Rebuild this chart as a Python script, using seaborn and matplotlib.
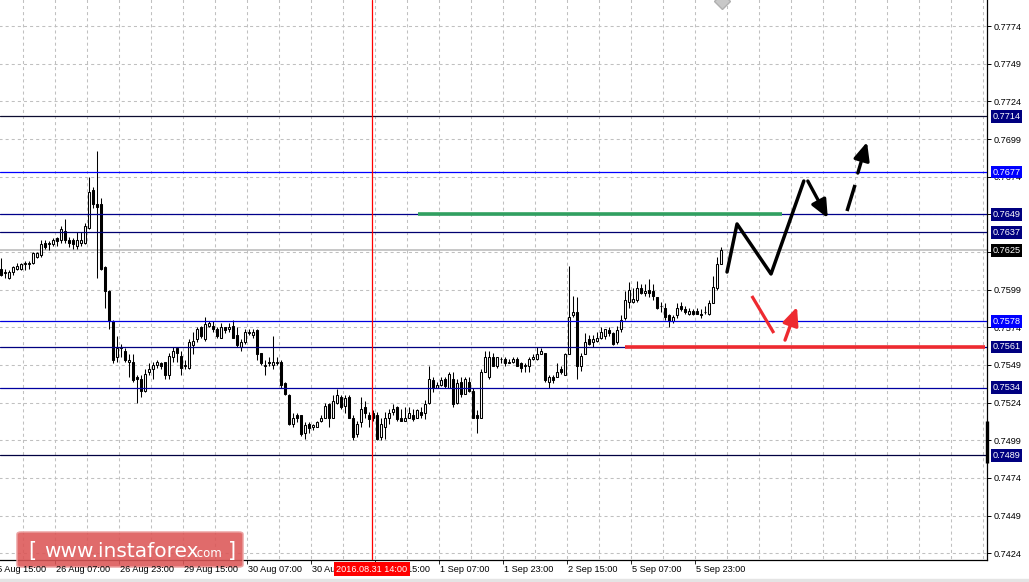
import numpy as np
import pandas as pd
import seaborn as sns
import matplotlib.pyplot as plt
from matplotlib.patches import FancyBboxPatch, Rectangle

# H1 candles, AUD/USD style quotes (open, high, low, close)
opens = [0.7613, 0.7610, 0.7607, 0.7611, 0.7613, 0.7613, 0.7616, 0.7616, 0.7617, 0.7621,
         0.7622, 0.7630, 0.7629, 0.7629, 0.7633, 0.7632, 0.7638, 0.7632, 0.7632, 0.7628,
         0.7630, 0.7630, 0.7640, 0.7665, 0.7656, 0.7656, 0.7614, 0.7598, 0.7578, 0.7554,
         0.7560, 0.7558, 0.7551, 0.7551, 0.7541, 0.7540, 0.7532, 0.7544, 0.7546, 0.7549,
         0.7550, 0.7551, 0.7542, 0.7554, 0.7560, 0.7555, 0.7548, 0.7547, 0.7562, 0.7566,
         0.7574, 0.7566, 0.7575, 0.7575, 0.7573, 0.7567, 0.7574, 0.7573, 0.7575, 0.7569,
         0.7561, 0.7564, 0.7570, 0.7569, 0.7572, 0.7557, 0.7548, 0.7551, 0.7549, 0.7550,
         0.7551, 0.7537, 0.7529, 0.7510, 0.7516, 0.7516, 0.7504, 0.7510, 0.7508, 0.7508,
         0.7512, 0.7514, 0.7523, 0.7514, 0.7524, 0.7528, 0.7522, 0.7528, 0.7514, 0.7503,
         0.7511, 0.7521, 0.7516, 0.7517, 0.7516, 0.7501, 0.7508, 0.7514, 0.7518, 0.7521,
         0.7514, 0.7512, 0.7514, 0.7516, 0.7514, 0.7518, 0.7517, 0.7524, 0.7539, 0.7534,
         0.7536, 0.7540, 0.7534, 0.7540, 0.7524, 0.7538, 0.7530, 0.7538, 0.7532, 0.7516,
         0.7514, 0.7544, 0.7541, 0.7554, 0.7548, 0.7553, 0.7553, 0.7550, 0.7551, 0.7553,
         0.7550, 0.7548, 0.7548, 0.7553, 0.7553, 0.7556, 0.7557, 0.7538, 0.7541, 0.7541,
         0.7546, 0.7542, 0.7556, 0.7582, 0.7584, 0.7548, 0.7556, 0.7566, 0.7564, 0.7565,
         0.7567, 0.7568, 0.7572, 0.7570, 0.7564, 0.7573, 0.7580, 0.7591, 0.7591, 0.7592,
         0.7600, 0.7597, 0.7599, 0.7598, 0.7594, 0.7588, 0.7587, 0.7582, 0.7578, 0.7582,
         0.7588, 0.7586, 0.7583, 0.7585, 0.7585, 0.7583, 0.7584, 0.7583, 0.7590, 0.7600,
         0.7616]
highs = [0.7620, 0.7613, 0.7612, 0.7615, 0.7617, 0.7617, 0.7618, 0.7618, 0.7624, 0.7624,
         0.7632, 0.7632, 0.7631, 0.7633, 0.7634, 0.7641, 0.7646, 0.7634, 0.7633, 0.7637,
         0.7637, 0.7643, 0.7674, 0.7667, 0.7691, 0.7660, 0.7615, 0.7599, 0.7579, 0.7568,
         0.7563, 0.7560, 0.7556, 0.7556, 0.7542, 0.7542, 0.7546, 0.7550, 0.7551, 0.7552,
         0.7551, 0.7551, 0.7557, 0.7561, 0.7561, 0.7558, 0.7552, 0.7566, 0.7571, 0.7574,
         0.7575, 0.7581, 0.7578, 0.7578, 0.7574, 0.7577, 0.7574, 0.7577, 0.7579, 0.7574,
         0.7566, 0.7573, 0.7573, 0.7573, 0.7573, 0.7557, 0.7552, 0.7554, 0.7568, 0.7554,
         0.7552, 0.7538, 0.7530, 0.7517, 0.7517, 0.7516, 0.7511, 0.7511, 0.7510, 0.7512,
         0.7516, 0.7524, 0.7524, 0.7529, 0.7533, 0.7529, 0.7529, 0.7529, 0.7516, 0.7512,
         0.7528, 0.7525, 0.7518, 0.7519, 0.7518, 0.7514, 0.7518, 0.7520, 0.7523, 0.7522,
         0.7520, 0.7521, 0.7521, 0.7520, 0.7520, 0.7521, 0.7526, 0.7548, 0.7541, 0.7538,
         0.7541, 0.7541, 0.7544, 0.7544, 0.7540, 0.7541, 0.7541, 0.7541, 0.7534, 0.7519,
         0.7546, 0.7558, 0.7558, 0.7557, 0.7554, 0.7554, 0.7554, 0.7553, 0.7554, 0.7554,
         0.7551, 0.7550, 0.7554, 0.7556, 0.7561, 0.7560, 0.7557, 0.7542, 0.7542, 0.7550,
         0.7548, 0.7557, 0.7615, 0.7595, 0.7594, 0.7557, 0.7570, 0.7569, 0.7569, 0.7571,
         0.7574, 0.7573, 0.7574, 0.7571, 0.7575, 0.7582, 0.7598, 0.7604, 0.7600, 0.7605,
         0.7603, 0.7603, 0.7606, 0.7603, 0.7594, 0.7591, 0.7590, 0.7583, 0.7582, 0.7590,
         0.7591, 0.7588, 0.7587, 0.7586, 0.7587, 0.7586, 0.7588, 0.7592, 0.7608, 0.7621,
         0.7627]
lows = [0.7608, 0.7607, 0.7606, 0.7609, 0.7612, 0.7612, 0.7612, 0.7613, 0.7616, 0.7620,
        0.7621, 0.7626, 0.7625, 0.7628, 0.7628, 0.7630, 0.7630, 0.7627, 0.7626, 0.7626,
        0.7628, 0.7629, 0.7639, 0.7653, 0.7607, 0.7612, 0.7587, 0.7573, 0.7550, 0.7551,
        0.7554, 0.7551, 0.7541, 0.7538, 0.7524, 0.7528, 0.7531, 0.7542, 0.7540, 0.7547,
        0.7546, 0.7540, 0.7540, 0.7551, 0.7551, 0.7542, 0.7546, 0.7546, 0.7556, 0.7564,
        0.7567, 0.7565, 0.7574, 0.7571, 0.7567, 0.7567, 0.7570, 0.7571, 0.7567, 0.7561,
        0.7558, 0.7563, 0.7569, 0.7567, 0.7552, 0.7549, 0.7542, 0.7548, 0.7546, 0.7549,
        0.7534, 0.7529, 0.7509, 0.7508, 0.7511, 0.7502, 0.7500, 0.7504, 0.7506, 0.7508,
        0.7511, 0.7514, 0.7508, 0.7514, 0.7523, 0.7520, 0.7517, 0.7514, 0.7499, 0.7501,
        0.7508, 0.7514, 0.7508, 0.7512, 0.7499, 0.7499, 0.7500, 0.7510, 0.7516, 0.7512,
        0.7512, 0.7512, 0.7514, 0.7512, 0.7514, 0.7514, 0.7513, 0.7523, 0.7531, 0.7534,
        0.7535, 0.7534, 0.7534, 0.7521, 0.7523, 0.7528, 0.7530, 0.7531, 0.7514, 0.7504,
        0.7514, 0.7544, 0.7540, 0.7548, 0.7547, 0.7550, 0.7548, 0.7550, 0.7550, 0.7548,
        0.7544, 0.7544, 0.7544, 0.7552, 0.7552, 0.7556, 0.7538, 0.7534, 0.7537, 0.7541,
        0.7543, 0.7542, 0.7556, 0.7581, 0.7540, 0.7545, 0.7556, 0.7562, 0.7561, 0.7564,
        0.7566, 0.7566, 0.7568, 0.7562, 0.7563, 0.7571, 0.7579, 0.7587, 0.7590, 0.7591,
        0.7596, 0.7595, 0.7594, 0.7592, 0.7586, 0.7584, 0.7579, 0.7574, 0.7577, 0.7580,
        0.7585, 0.7583, 0.7582, 0.7582, 0.7583, 0.7580, 0.7583, 0.7582, 0.7590, 0.7599,
        0.7616]
closes = [0.7609, 0.7611, 0.7611, 0.7614, 0.7615, 0.7616, 0.7617, 0.7617, 0.7623, 0.7623,
          0.7629, 0.7627, 0.7630, 0.7632, 0.7631, 0.7639, 0.7632, 0.7630, 0.7629, 0.7632,
          0.7632, 0.7641, 0.7664, 0.7656, 0.7654, 0.7613, 0.7598, 0.7578, 0.7552, 0.7560,
          0.7561, 0.7552, 0.7552, 0.7539, 0.7540, 0.7532, 0.7543, 0.7546, 0.7549, 0.7551,
          0.7548, 0.7542, 0.7555, 0.7558, 0.7557, 0.7547, 0.7549, 0.7564, 0.7565, 0.7573,
          0.7568, 0.7576, 0.7577, 0.7573, 0.7568, 0.7574, 0.7572, 0.7574, 0.7567, 0.7562,
          0.7564, 0.7571, 0.7571, 0.7571, 0.7556, 0.7550, 0.7549, 0.7550, 0.7551, 0.7551,
          0.7536, 0.7530, 0.7510, 0.7514, 0.7514, 0.7503, 0.7509, 0.7507, 0.7509, 0.7511,
          0.7514, 0.7522, 0.7514, 0.7525, 0.7529, 0.7521, 0.7527, 0.7514, 0.7501, 0.7510,
          0.7520, 0.7517, 0.7513, 0.7514, 0.7500, 0.7510, 0.7514, 0.7517, 0.7520, 0.7513,
          0.7512, 0.7514, 0.7517, 0.7513, 0.7519, 0.7516, 0.7523, 0.7540, 0.7534, 0.7536,
          0.7539, 0.7535, 0.7543, 0.7523, 0.7537, 0.7530, 0.7540, 0.7532, 0.7514, 0.7514,
          0.7544, 0.7554, 0.7554, 0.7548, 0.7554, 0.7553, 0.7550, 0.7551, 0.7553, 0.7548,
          0.7547, 0.7549, 0.7553, 0.7554, 0.7556, 0.7558, 0.7539, 0.7541, 0.7539, 0.7544,
          0.7544, 0.7556, 0.7581, 0.7584, 0.7548, 0.7555, 0.7564, 0.7563, 0.7566, 0.7567,
          0.7571, 0.7573, 0.7570, 0.7563, 0.7572, 0.7579, 0.7592, 0.7599, 0.7593, 0.7600,
          0.7597, 0.7598, 0.7597, 0.7595, 0.7587, 0.7588, 0.7581, 0.7578, 0.7581, 0.7587,
          0.7586, 0.7584, 0.7585, 0.7583, 0.7583, 0.7582, 0.7584, 0.7590, 0.7601, 0.7616,
          0.7625]

time_labels = ["25 Aug 15:00", "26 Aug 07:00", "26 Aug 23:00", "29 Aug 15:00",
               "30 Aug 07:00", "30 Aug 23:00", "31 Aug 15:00", "1 Sep 07:00",
               "1 Sep 23:00", "2 Sep 15:00", "5 Sep 07:00", "5 Sep 23:00"]
price_ticks = [0.7774, 0.7749, 0.7724, 0.7699, 0.7674, 0.7649, 0.7624, 0.7599,
               0.7574, 0.7549, 0.7524, 0.7499, 0.7474, 0.7449, 0.7424]

level_prices = [0.7714, 0.7677, 0.7649, 0.7637, 0.7578, 0.7561, 0.7534, 0.7489]
level_line_colors = ["#0c0c30", "#0000ff", "#00008b", "#000070",
                     "#0000e0", "#000080", "#0000a0", "#000040"]
level_label_colors = ["#000080", "#0000ff", "#000080", "#000080",
                      "#0000ff", "#000080", "#000080", "#000080"]
bid_price = 0.7625
marker_time = "2016.08.31 14:00"

# drawn forecast marks (bar index, price)
zigzag_x = [181.6, 184.1, 192.6, 200.8]
zigzag_y = [0.76107, 0.76426, 0.76094, 0.76711]
down_arrow = [(201.8, 0.76711), (206.8, 0.76465)]
dash_seg = [(211.6, 0.76512), (213.6, 0.76685)]
up_arrow = [(214.3, 0.76764), (216.6, 0.76970)]
red_seg = [(187.8, 0.75948), (193.3, 0.75702)]
red_arrow = [(196.1, 0.75655), (199.1, 0.75875)]
green_level = (104.3, 195.3, 0.7649)
red_level = (156.1, 246.1, 0.7561)

df = pd.DataFrame({"open": opens, "high": highs, "low": lows, "close": closes})
df["bar"] = np.arange(len(df))
df["up"] = df["close"] >= df["open"]

sns.set_theme(style="white")
plt.rcParams["font.family"] = ["Liberation Sans", "DejaVu Sans"]
plt.rcParams["lines.scale_dashes"] = False

fig = plt.figure(figsize=(10.29, 5.82), dpi=100, facecolor="white")
ax = fig.add_axes([0, 22 / 582, 987 / 1029, 560 / 582])
ax.set_facecolor("white")
ax.set_xlim(-0.175, 246.6)
ax.set_ylim(0.74195, 0.77913)

grid_kw = dict(color="#c0c0c0", lw=0.75, linestyles=(0, (2.2, 2.2)), zorder=0)
ax.hlines(price_ticks, -1, 250, **grid_kw)
ax.vlines(np.arange(5.6, 247, 8), 0.74, 0.78, **grid_kw)

# candles
ax.vlines(df["bar"], df["low"], df["high"], color="black", lw=0.75, zorder=2)
body_lo = df[["open", "close"]].min(axis=1)
body_h = (df["close"] - df["open"]).abs()
ax.bar(df["bar"], body_h, bottom=body_lo, width=0.5,
       color=np.where(df["up"], "white", "black"), edgecolor="black",
       linewidth=0.75, zorder=3)

# bid line and levels
ax.axhline(bid_price, color="#b8b8b8", lw=1.1, zorder=1)
for p, c in zip(level_prices, level_line_colors):
    ax.axhline(p, color=c, lw=0.9, zorder=4)

ax.axvline(92.8, color="#ff0000", lw=0.9, zorder=4)

ax.plot(green_level[:2], [green_level[2]] * 2, color="#30a060", lw=2.6,
        solid_capstyle="butt", zorder=5)
ax.plot(red_level[:2], [red_level[2]] * 2, color="#ee2a30", lw=2.6,
        solid_capstyle="butt", zorder=5)

# forecast arrows
sns.lineplot(x=zigzag_x, y=zigzag_y, sort=False, estimator=None, color="black",
             lw=2.5, ax=ax, zorder=6)
ax.plot(*zip(*dash_seg), color="black", lw=2.5, solid_capstyle="butt", zorder=6)
ax.plot(*zip(*red_seg), color="#ee2a30", lw=2.3, solid_capstyle="butt", zorder=6)
for seg, col in [(down_arrow, "black"), (up_arrow, "black"), (red_arrow, "#ee2a30")]:
    ax.annotate("", xy=seg[1], xytext=seg[0], zorder=6,
                arrowprops=dict(arrowstyle="-|>,head_length=0.9,head_width=0.4",
                                color=col, lw=2.4, shrinkA=0, shrinkB=0))

ax.plot(180.3, 0.77905, marker="D", ms=8, color="#c8c8c8", mec="#b0b0b0", zorder=1)

# axes styling
for s in ["top", "left"]:
    ax.spines[s].set_visible(False)
for s in ["right", "bottom"]:
    ax.spines[s].set_color("black")
    ax.spines[s].set_linewidth(0.9)

ax.yaxis.tick_right()
ax.set_yticks(price_ticks)
ax.set_yticklabels([f"{p:.4f}" for p in price_ticks])
ax.tick_params(axis="y", direction="out", length=3, width=0.7, pad=1.5,
               labelsize=6.6, colors="black", right=True, left=False)

tick_pos = -2.4 + 16 * np.arange(len(time_labels))
ax.set_xticks(tick_pos[tick_pos > 0])
ax.set_xticklabels([])
ax.tick_params(axis="x", direction="out", length=3, width=0.7, bottom=True)
xtr = ax.get_xaxis_transform()
for pos, lab in zip(tick_pos, time_labels):
    ax.text(pos + 0.3, -0.0165, lab, transform=xtr, fontsize=6.6, ha="left",
            va="center", color="black", clip_on=False, zorder=8)
ax.text(92.8, -0.0165, marker_time, transform=xtr, fontsize=6.6, ha="center",
        va="center", color="white", clip_on=False, zorder=9,
        bbox=dict(boxstyle="square,pad=0.25", fc="#ff0000", ec="none"))

ytr = ax.get_yaxis_transform()
for p, bg in zip(level_prices + [bid_price], level_label_colors + ["black"]):
    ax.text(1.0055, p, f"{p:.4f}", transform=ytr, fontsize=6.6, ha="left",
            va="center", color="white", clip_on=False, zorder=9,
            bbox=dict(boxstyle="square,pad=0.2", fc=bg, ec="none"))

ax.plot([1.0, 1.0], [0.7512, 0.7484], transform=ytr, color="black", lw=2.4,
        clip_on=False, zorder=9, solid_capstyle="butt")

# watermark, kept under the time labels
wm = FancyBboxPatch((17 / 1029, 15 / 582), 226 / 1029, 35 / 582,
                    boxstyle="round,pad=0,rounding_size=0.004",
                    transform=fig.transFigure, fc="#dc5656", ec="#eba0a0",
                    lw=1.2, alpha=0.88, zorder=7, clip_on=False)
ax.add_patch(wm)
wm_kw = dict(transform=fig.transFigure, color="white", family="DejaVu Sans",
             va="baseline", zorder=7.5, clip_on=False)
ax.text(28 / 1029, 25 / 582, "[", fontsize=15, **wm_kw)
ax.text(44 / 1029, 25 / 582, "www.instaforex", fontsize=14.5, **wm_kw)
ax.text(194 / 1029, 25 / 582, ".com", fontsize=8.5, **wm_kw)
ax.text(228 / 1029, 25 / 582, "]", fontsize=15, **wm_kw)

fig.add_artist(Rectangle((0, 0), 1, 3 / 582, transform=fig.transFigure,
                         color="#e4e4e4", zorder=0))

fig.savefig("out.png", dpi=100)
plt.close(fig)
